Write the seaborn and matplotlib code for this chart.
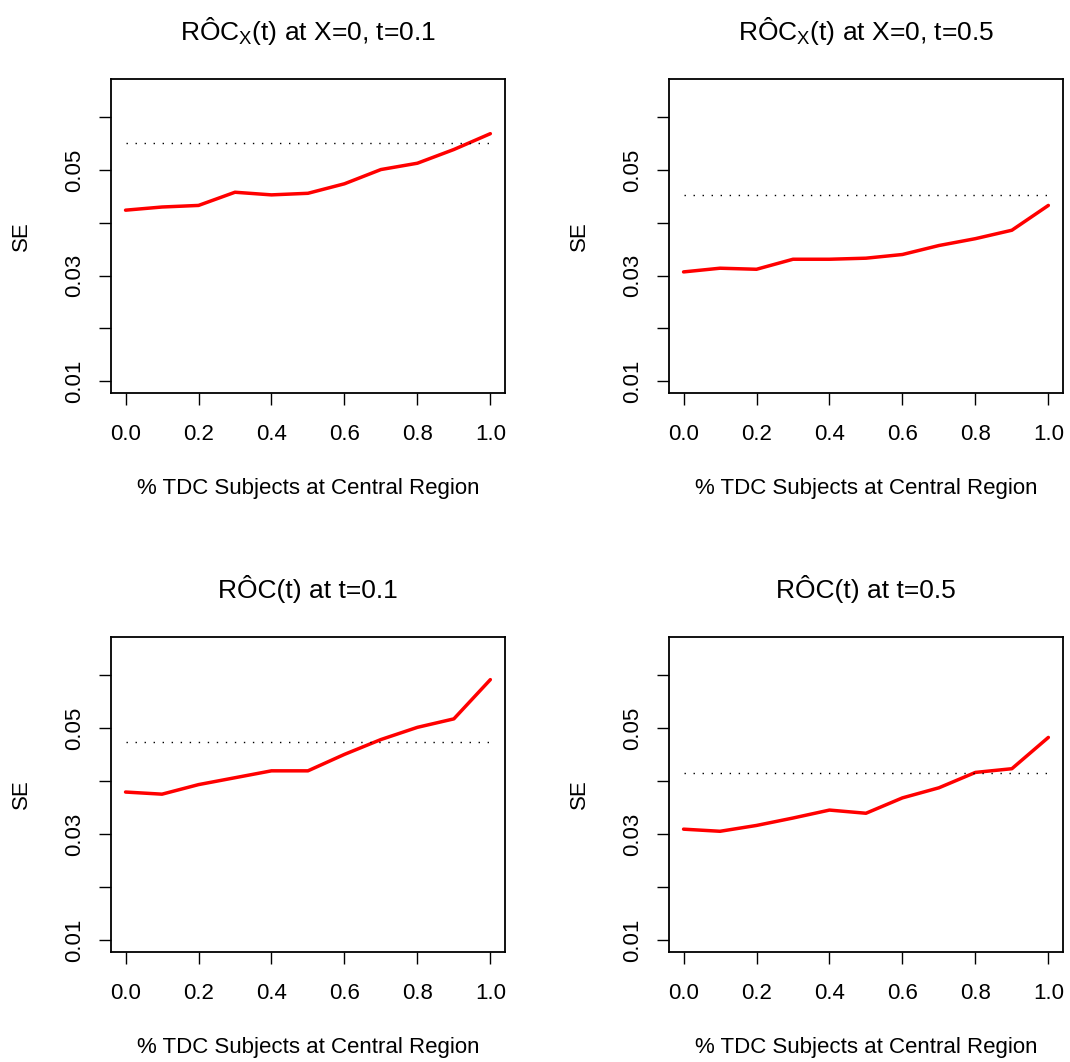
import matplotlib
matplotlib.use("Agg")
import numpy as np
import seaborn as sns
import matplotlib.pyplot as plt

sns.set_style("white")
plt.rcParams["font.family"] = ["Liberation Sans", "DejaVu Sans"]
plt.rcParams["mathtext.fontset"] = "custom"
plt.rcParams["mathtext.rm"] = "Liberation Sans"
plt.rcParams["mathtext.it"] = "Liberation Sans:italic"
plt.rcParams["text.color"] = "black"
plt.rcParams["axes.labelcolor"] = "black"
plt.rcParams["xtick.color"] = "black"
plt.rcParams["ytick.color"] = "black"

# proportion of TDC subjects at central region
prop = [0.0, 0.1, 0.2, 0.3, 0.4, 0.5, 0.6, 0.7, 0.8, 0.9, 1.0]

# SE curves
se_rocx_01 = [0.0424, 0.0430, 0.0433, 0.0458, 0.0453, 0.0456, 0.0474, 0.0501, 0.0513, 0.0539, 0.0569]
se_rocx_05 = [0.0307, 0.0314, 0.0312, 0.0331, 0.0331, 0.0333, 0.0340, 0.0357, 0.0370, 0.0386, 0.0433]
se_roc_01 = [0.0379, 0.0375, 0.0393, 0.0406, 0.0419, 0.0419, 0.0450, 0.0478, 0.0501, 0.0517, 0.0591]
se_roc_05 = [0.0309, 0.0305, 0.0316, 0.0330, 0.0345, 0.0339, 0.0368, 0.0387, 0.0416, 0.0423, 0.0482]

# reference levels (dotted lines)
ref_levels = [0.0552, 0.0453, 0.0474, 0.0415]

titles = [
    r"RÔ$\mathrm{C}_\mathrm{X}$(t) at X=0, t=0.1",
    r"RÔ$\mathrm{C}_\mathrm{X}$(t) at X=0, t=0.5",
    "RÔC(t) at t=0.1",
    "RÔC(t) at t=0.5",
]
curves = [se_rocx_01, se_rocx_05, se_roc_01, se_roc_05]

yticks = [0.01, 0.02, 0.03, 0.04, 0.05, 0.06]
ytick_labels = ["0.01", "", "0.03", "", "0.05", ""]
xticks = [0.0, 0.2, 0.4, 0.6, 0.8, 1.0]

fig = plt.figure(figsize=(10.70, 10.62), dpi=100)
positions = [
    [0.1037, 0.6302, 0.3682, 0.2951],
    [0.6252, 0.6302, 0.3682, 0.2951],
    [0.1037, 0.1039, 0.3682, 0.2966],
    [0.6252, 0.1039, 0.3682, 0.2966],
]

for pos, title, se, ref in zip(positions, titles, curves, ref_levels):
    ax = fig.add_axes(pos)
    sns.lineplot(x=prop, y=se, color="red", lw=2.5, ax=ax)
    ax.hlines(ref, prop[0], prop[-1], colors="black", lw=1.0,
              linestyles=(0, (1, 5.5)))
    ax.set_xlim(-0.04, 1.04)
    ax.set_ylim(0.0078, 0.0672)
    ax.set_xticks(xticks)
    ax.set_xticklabels([f"{v:.1f}" for v in xticks])
    ax.set_yticks(yticks)
    ax.set_yticklabels(ytick_labels, rotation=90, va="center")
    ax.tick_params(axis="both", direction="out", length=8.5, width=1.0,
                   labelsize=16, color="black", left=True, bottom=True)
    ax.tick_params(axis="x", pad=14)
    ax.tick_params(axis="y", pad=10)
    for sp in ax.spines.values():
        sp.set_visible(True)
        sp.set_color("black")
        sp.set_linewidth(1.3)
    ax.set_xlabel("% TDC Subjects at Central Region", fontsize=16, labelpad=24)
    ax.set_ylabel("SE", fontsize=16, labelpad=23)
    ax.set_title(title, fontsize=19, pad=28)

fig.savefig("out.png", dpi=100)
